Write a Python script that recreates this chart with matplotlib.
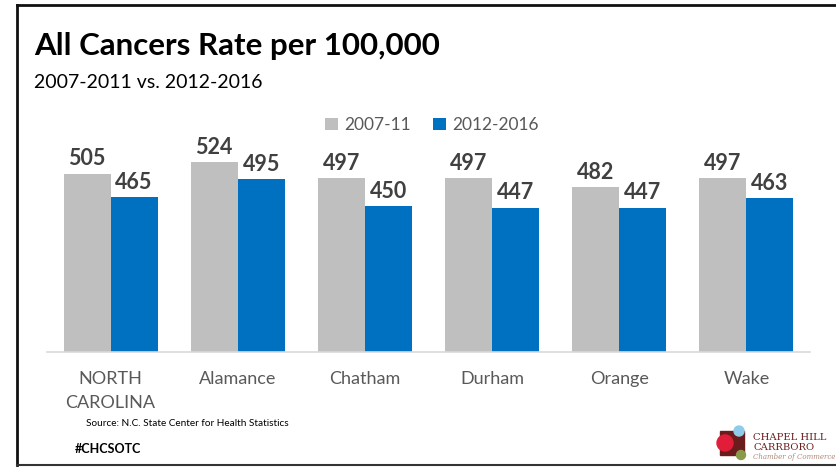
import matplotlib
matplotlib.use("Agg")
import matplotlib.pyplot as plt
from matplotlib.patches import Rectangle, Circle
from matplotlib.lines import Line2D

plt.rcParams['font.family'] = ['Lato', 'DejaVu Sans']

categories = ["NORTH\nCAROLINA", "Alamance", "Chatham", "Durham", "Orange", "Wake"]
series_names = ["2007-11", "2012-2016"]
rates_2007_11 = [505, 524, 497, 497, 482, 497]
rates_2012_16 = [465, 495, 450, 447, 447, 463]

GRAY = "#BFBFBF"
BLUE = "#0070C0"
TXT = "#595959"
LBL = "#404040"

W, H = 836, 468
fig = plt.figure(figsize=(W / 100, H / 100), dpi=100)

def fx(px):
    return px / W

def fy(py):
    return 1 - py / H

ax = fig.add_axes([fx(47), fy(352), fx(810) - fx(47), fy(118) - fy(352)])
x = list(range(len(categories)))
bw = 0.37
b1 = ax.bar([i - bw / 2 for i in x], rates_2007_11, width=bw, color=GRAY, label=series_names[0], zorder=2)
b2 = ax.bar([i + bw / 2 for i in x], rates_2012_16, width=bw, color=BLUE, label=series_names[1], zorder=2)
ax.set_ylim(200, 600)
ax.set_xlim(-0.5, len(categories) - 0.5)
for bars in (b1, b2):
    for r in bars:
        ax.annotate(f"{int(r.get_height())}", (r.get_x() + r.get_width() / 2, r.get_height()),
                    xytext=(0, 3), textcoords="offset points", ha="center", va="bottom",
                    fontsize=15.5, fontweight="bold", color=LBL)
ax.set_yticks([])
ax.set_xticks(x)
ax.set_xticklabels(categories, fontsize=13, color=TXT, linespacing=1.55)
ax.tick_params(axis="x", length=0, pad=14)
for s in ("top", "right", "left"):
    ax.spines[s].set_visible(False)
ax.spines["bottom"].set_color("#D9D9D9")
ax.spines["bottom"].set_linewidth(1.2)
ax.patch.set_alpha(0)

# legend
leg = fig.legend(handles=[b1, b2], labels=series_names, loc="center", bbox_to_anchor=(fx(432), fy(125)),
                 ncol=2, frameon=False, fontsize=12.5, labelcolor=TXT, handlelength=0.75, handleheight=0.75,
                 handletextpad=0.35, columnspacing=1.3)

# titles
fig.text(fx(34), fy(46), "All Cancers Rate per 100,000", fontsize=22.5, fontweight="bold", color="black",
         ha="left", va="center")
fig.text(fx(34), fy(83), "2007-2011 vs. 2012-2016", fontsize=14, color="black", ha="left", va="center")
fig.text(fx(86), fy(424), "Source: N.C. State Center for Health Statistics", fontsize=7.2, color="black",
         ha="left", va="center")
fig.text(fx(75), fy(449), "#CHCSOTC", fontsize=9, fontweight="bold", color="black", ha="left", va="center")

# frame
fig.add_artist(Line2D([fx(17), fx(17)], [fy(5), fy(465)], color="#111111", lw=2))
fig.add_artist(Line2D([fx(17), 1], [fy(5), fy(5)], color="#111111", lw=2))
fig.add_artist(Line2D([fx(17), 1], [fy(465), fy(465)], color="#333333", lw=1.5))

# logo
la = fig.add_axes([fx(712), fy(462), fx(752) - fx(712), fy(425) - fy(462)])
la.set_xlim(0, 40)
la.set_ylim(37, 0)
la.set_aspect("equal")
la.axis("off")
la.add_patch(Rectangle((8, 6), 24, 24, color="#6B1D1D"))
la.add_patch(Circle((27, 6), 5, color="#8FCBEB"))
la.add_patch(Circle((13, 18), 8, color="#E11D3A"))
la.add_patch(Circle((29, 30), 4.5, color="#8A9A4B"))
fig.text(fx(753), fy(437), "CHAPEL HILL", fontsize=7.2, family="DejaVu Serif", color="#6B1D1D", va="center")
fig.text(fx(753), fy(447), "CARRBORO", fontsize=7.2, family="DejaVu Serif", color="#6B1D1D", va="center")
fig.text(fx(753), fy(457), "Chamber of Commerce", fontsize=5, family="DejaVu Serif", style="italic",
         color="#B08A7A", va="center")

fig.savefig("out.png", dpi=100)
